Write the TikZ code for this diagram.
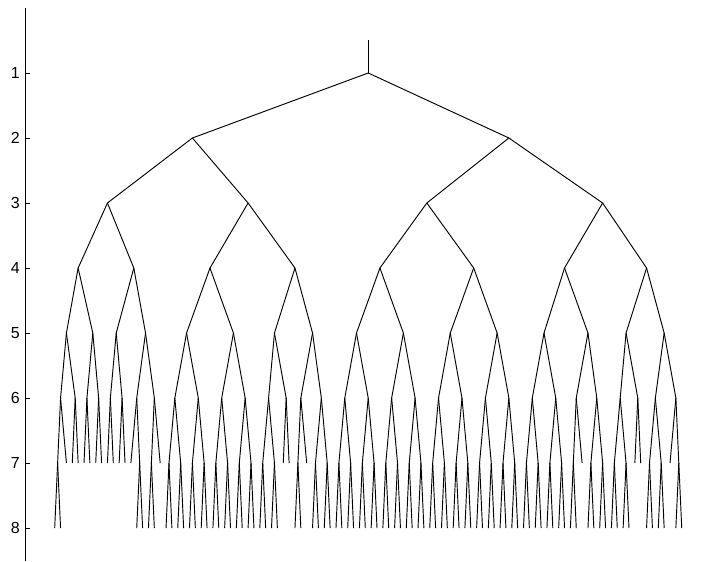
\documentclass[tikz,border=0pt]{standalone}
\usepackage{fontspec}
\setmainfont{Liberation Sans}
\usepackage{tikz}
\newcount\leafno
\tikzset{
  lt tree/.style={x=4.395pt, y=-48.75pt, line cap=butt, line join=round},
  lt edge/.style={draw=black, line width=0.7pt},
  lt axis/.style={draw=black, line width=0.7pt},
  lt label/.style={font=\fontsize{12}{14}\selectfont, text=black, inner sep=4pt, anchor=east}
}
\begin{document}
\begin{tikzpicture}[lt tree]
\useasboundingbox (-8.334,-0.123) rectangle (115.385,8.508);
% level 7: 1 = leaf, 2 = two leaves on level 8
\global\leafno=0
\foreach \w [count=\j] in {2,1,1,1,1,1,1,1, 1,1,1,1,1,2,2,1,
                           2,2,2,2,2,2,2,2, 2,2,1,1,2,1,2,2,
                           2,2,2,2,2,2,2,2, 2,2,2,2,2,2,2,2,
                           2,2,2,2,2,1,2,2, 2,2,1,1,2,2,1,2} {
  \global\advance\leafno by 1
  \xdef\fst{\the\leafno}
  \global\advance\leafno by \w
  \global\advance\leafno by -1
  \xdef\lst{\the\leafno}
  \expandafter\xdef\csname lfirst\j\endcsname{\fst}
  \expandafter\xdef\csname llast\j\endcsname{\lst}
  \pgfmathsetmacro{\xpos}{(\fst+\lst)/2}
  \coordinate (t7-\j) at (\xpos,7);
  \ifnum\w=2
    \coordinate (leaf-\fst) at (\fst,8);
    \coordinate (leaf-\lst) at (\lst,8);
    \draw[lt edge] (t7-\j) -- (leaf-\fst);
    \draw[lt edge] (t7-\j) -- (leaf-\lst);
  \fi
}
\foreach \lev in {1,...,6} {
  \pgfmathtruncatemacro{\cnt}{2^(\lev-1)}
  \pgfmathtruncatemacro{\grp}{2^(7-\lev)}
  \foreach \idx in {1,...,\cnt} {
    \pgfmathtruncatemacro{\ja}{(\idx-1)*\grp+1}
    \pgfmathtruncatemacro{\jb}{\idx*\grp}
    \pgfmathsetmacro{\xpos}{(\csname lfirst\ja\endcsname+\csname llast\jb\endcsname)/2}
    \coordinate (t\lev-\idx) at (\xpos,\lev);
  }
}
\foreach \lev in {1,...,6} {
  \pgfmathtruncatemacro{\cnt}{2^(\lev-1)}
  \pgfmathtruncatemacro{\nxt}{\lev+1}
  \foreach \idx in {1,...,\cnt} {
    \pgfmathtruncatemacro{\ca}{2*\idx-1}
    \pgfmathtruncatemacro{\cb}{2*\idx}
    \draw[lt edge] (t\lev-\idx) -- (t\nxt-\ca);
    \draw[lt edge] (t\lev-\idx) -- (t\nxt-\cb);
  }
}
\path (t1-1) ++(0,-0.5) coordinate (stem);
\draw[lt edge] (stem) -- (t1-1);
% axis
\coordinate (axtop) at (-4,0);
\coordinate (axbot) at (-4,8.5);
\draw[lt axis] (axtop) -- (axbot);
\foreach \lev in {1,...,8} {
  \coordinate (tick\lev) at (-4,\lev);
  \draw[lt axis] (tick\lev) -- ++(0.8,0);
  \node[lt label] (lab\lev) at (tick\lev) {\lev};
}
\end{tikzpicture}
\end{document}
